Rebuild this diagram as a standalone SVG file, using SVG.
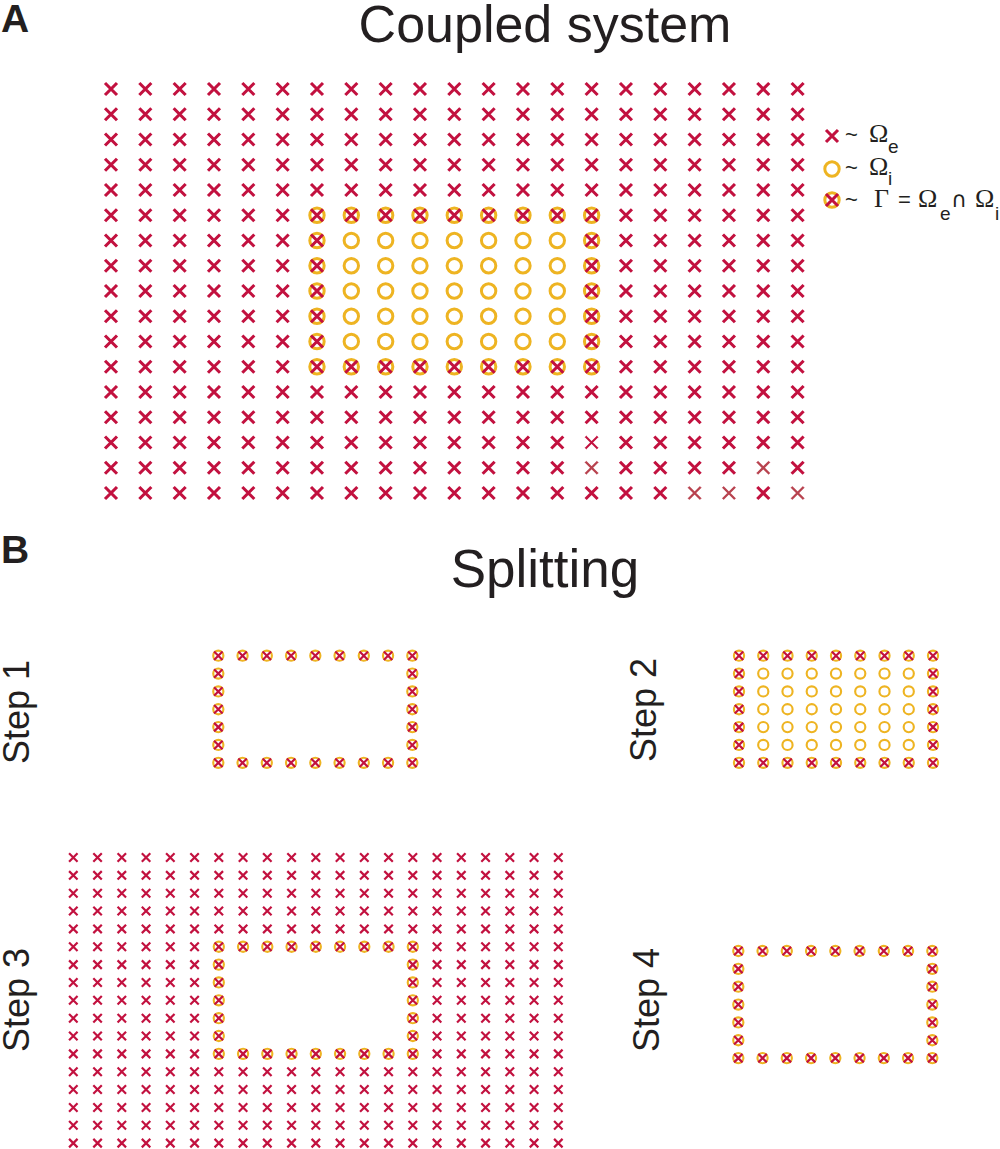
<svg xmlns="http://www.w3.org/2000/svg" xmlns:xlink="http://www.w3.org/1999/xlink" width="1000" height="1149" viewBox="0 0 1000 1149">
<style>
.xm{fill:none;stroke:#C2113F;stroke-width:3.1}
.om{fill:none;stroke:#EEB422;stroke-width:3}
.xw{fill:none;stroke:#fff;stroke-width:5}
.xf{fill:none;stroke:#B8434F;stroke-width:2.4}
.xt{fill:none;stroke:#C2113F;stroke-width:2}
.ttl{font-family:"Liberation Sans",Arial,sans-serif;font-size:52px;fill:#231F20}
.lbl{font-family:"Liberation Sans",Arial,sans-serif;font-size:39px;font-weight:bold;fill:#231F20}
.stp{font-family:"Liberation Sans",Arial,sans-serif;font-size:36px;fill:#231F20}
.lg{font-family:"Liberation Sans",Arial,sans-serif;font-size:22px;fill:#231F20}
.sym{font-family:"Liberation Serif","Times New Roman",serif;font-size:26px}
.sub{font-size:19px}
.cap{font-family:"DejaVu Sans",sans-serif;font-size:22px}
</style>
<defs>
<path id="xm" class="xm" d="M-6,-6L6,6M-6,6L6,-6"/>
<circle id="om" class="om" r="7.2"/>
<path id="xw" class="xw" d="M-6,-6L6,6M-6,6L6,-6"/>
<path id="xf" class="xf" d="M-6,-6L6,6M-6,6L6,-6"/>
<path id="xt" class="xt" d="M-6,-6L6,6M-6,6L6,-6"/>
<g id="rowFull">
<use href="#xm" x="0"/><use href="#xm" x="34.33"/><use href="#xm" x="68.66"/><use href="#xm" x="102.99"/><use href="#xm" x="137.32"/><use href="#xm" x="171.65"/><use href="#xm" x="205.98"/><use href="#xm" x="240.31"/><use href="#xm" x="274.64"/><use href="#xm" x="308.97"/><use href="#xm" x="343.3"/><use href="#xm" x="377.63"/><use href="#xm" x="411.96"/><use href="#xm" x="446.29"/><use href="#xm" x="480.62"/><use href="#xm" x="514.95"/><use href="#xm" x="549.28"/><use href="#xm" x="583.61"/><use href="#xm" x="617.94"/><use href="#xm" x="652.27"/><use href="#xm" x="686.6"/>
</g>
<g id="rowSides">
<use href="#xm" x="0"/><use href="#xm" x="34.33"/><use href="#xm" x="68.66"/><use href="#xm" x="102.99"/><use href="#xm" x="137.32"/><use href="#xm" x="171.65"/><use href="#xm" x="514.95"/><use href="#xm" x="549.28"/><use href="#xm" x="583.61"/><use href="#xm" x="617.94"/><use href="#xm" x="652.27"/><use href="#xm" x="686.6"/>
</g>
<g id="xRow9">
<use href="#xm" x="205.98"/><use href="#xm" x="240.31"/><use href="#xm" x="274.64"/><use href="#xm" x="308.97"/><use href="#xm" x="343.3"/><use href="#xm" x="377.63"/><use href="#xm" x="411.96"/><use href="#xm" x="446.29"/><use href="#xm" x="480.62"/>
</g>
<g id="xPair"><use href="#xm" x="205.98"/><use href="#xm" x="480.62"/></g>
<g id="cRow9">
<use href="#om" x="205.98"/><use href="#om" x="240.31"/><use href="#om" x="274.64"/><use href="#om" x="308.97"/><use href="#om" x="343.3"/><use href="#om" x="377.63"/><use href="#om" x="411.96"/><use href="#om" x="446.29"/><use href="#om" x="480.62"/>
</g>
<g id="cPair"><use href="#om" x="205.98"/><use href="#om" x="480.62"/></g>
<g id="cRow7">
<use href="#om" x="240.31"/><use href="#om" x="274.64"/><use href="#om" x="308.97"/><use href="#om" x="343.3"/><use href="#om" x="377.63"/><use href="#om" x="411.96"/><use href="#om" x="446.29"/>
</g>
<g id="xfield">
<use href="#rowFull" y="0"/><use href="#rowFull" y="25.25"/><use href="#rowFull" y="50.5"/><use href="#rowFull" y="75.75"/><use href="#rowFull" y="101"/>
<use href="#rowSides" y="126.25"/><use href="#rowSides" y="151.5"/><use href="#rowSides" y="176.75"/><use href="#rowSides" y="202"/><use href="#rowSides" y="227.25"/><use href="#rowSides" y="252.5"/><use href="#rowSides" y="277.75"/>
<use href="#rowFull" y="303"/><use href="#rowFull" y="328.25"/><use href="#rowFull" y="353.5"/><use href="#rowFull" y="378.75"/><use href="#rowFull" y="404"/>
</g>
<g id="bnd">
<use href="#cRow9" y="126.25"/><use href="#cPair" y="151.5"/><use href="#cPair" y="176.75"/><use href="#cPair" y="202"/><use href="#cPair" y="227.25"/><use href="#cPair" y="252.5"/><use href="#cRow9" y="277.75"/>
<use href="#xRow9" y="126.25"/><use href="#xPair" y="151.5"/><use href="#xPair" y="176.75"/><use href="#xPair" y="202"/><use href="#xPair" y="227.25"/><use href="#xPair" y="252.5"/><use href="#xRow9" y="277.75"/>
</g>
<g id="inner">
<use href="#cRow7" y="151.5"/><use href="#cRow7" y="176.75"/><use href="#cRow7" y="202"/><use href="#cRow7" y="227.25"/><use href="#cRow7" y="252.5"/>
</g>
</defs>
<rect width="1000" height="1149" fill="#fff"/>
<g id="labels">
<text class="lbl" x="1" y="32">A</text>
<text class="lbl" x="1" y="563">B</text>
<text class="ttl" x="545" y="42" text-anchor="middle">Coupled system</text>
<text class="ttl" x="545" y="587" text-anchor="middle" style="font-size:53px">Splitting</text>
</g>
<g id="coupled" transform="translate(111,89)">
<use href="#xfield"/><use href="#inner"/><use href="#bnd"/>
</g>
<g id="coupled-faded">
<use href="#xw" x="591.6" y="442.5"/><use href="#xt" x="591.6" y="442.5"/>
<use href="#xw" x="591.6" y="467.75"/><use href="#xf" x="591.6" y="467.75"/>
<use href="#xw" x="763.3" y="467.75"/><use href="#xf" x="763.3" y="467.75"/>
<use href="#xw" x="694.6" y="493"/><use href="#xf" x="694.6" y="493"/>
<use href="#xw" x="728.9" y="493"/><use href="#xf" x="728.9" y="493"/>
<use href="#xw" x="797.6" y="493"/><use href="#xf" x="797.6" y="493"/>
</g>
<g id="legend">
<use href="#xm" x="832" y="136"/>
<use href="#om" x="832" y="169"/>
<use href="#om" x="832" y="200"/><use href="#xm" x="832" y="200"/>
<text class="lg"><tspan x="845" y="142">~</tspan><tspan class="sym" x="869" y="142">Ω</tspan><tspan class="sub" x="888" y="153">e</tspan></text>
<text class="lg"><tspan x="845" y="175">~</tspan><tspan class="sym" x="869" y="175">Ω</tspan><tspan class="sub" x="888" y="185">i</tspan></text>
<text class="lg"><tspan x="845" y="207">~</tspan><tspan class="sym" x="874" y="207">Γ</tspan><tspan x="898" y="207">=</tspan><tspan class="sym" x="918" y="207">Ω</tspan><tspan class="sub" x="940" y="220">e</tspan><tspan class="cap" x="951" y="207">∩</tspan><tspan class="sym" x="975" y="207">Ω</tspan><tspan class="sub" x="995" y="220">i</tspan></text>
</g>
<g id="step1">
<text class="stp" transform="translate(29,712) rotate(-90)" text-anchor="middle">Step 1</text>
<g transform="translate(72.8,566.45) scale(0.7064,0.707)"><use href="#bnd"/></g>
</g>
<g id="step2">
<text class="stp" transform="translate(656,710) rotate(-90)" text-anchor="middle">Step 2</text>
<g transform="translate(593.5,566.45) scale(0.7064,0.707)"><use href="#inner"/><use href="#bnd"/></g>
</g>
<g id="step3">
<text class="stp" transform="translate(29,1000) rotate(-90)" text-anchor="middle">Step 3</text>
<g transform="translate(73.3,857.5) scale(0.7064,0.707)"><use href="#xfield"/><use href="#bnd"/></g>
</g>
<g id="step4">
<text class="stp" transform="translate(659,1000) rotate(-90)" text-anchor="middle">Step 4</text>
<g transform="translate(592.8,861.75) scale(0.7064,0.707)"><use href="#bnd"/></g>
</g>
</svg>
